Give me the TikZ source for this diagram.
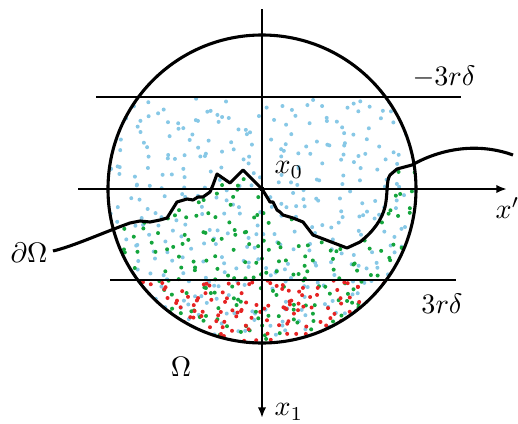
\documentclass[tikz,border=0pt]{standalone}
\usepackage{amssymb,amsmath}
\usetikzlibrary{arrows.meta}

\definecolor{dotblue}{RGB}{135,200,230}
\definecolor{dotgreen}{RGB}{20,165,60}
\definecolor{dotred}{RGB}{230,35,35}

\newcommand{\bdry}{(-209,-62) .. controls (-188,-57) and (-160,-44) .. (-132,-34)
  -- (-122,-32) -- (-112,-33) -- (-102,-31) -- (-95,-29) -- (-90,-21) -- (-85,-13)
  -- (-75,-10) -- (-69,-11) -- (-64,-8) -- (-59,-8) -- (-52,-3) -- (-49,4)
  -- (-45,15) -- (-32,6) -- (-19,19) -- (-9,9) -- (0,0)
  -- (5,-8) -- (8,-13) -- (11,-13) -- (15,-21) -- (18,-23) -- (21,-26)
  -- (31,-29) -- (41,-33) -- (51,-46) -- (85,-59) -- (98,-53)
  .. controls (112,-42) and (120,-30) .. (123,-18)
  .. controls (126,-5) and (124,8) .. (128,14) -- (135,20) -- (150,24)
  .. controls (178,40) and (215,47) .. (251,34)}

\begin{document}
\begin{tikzpicture}[scale=0.0125,
    bluedot/.style={fill=dotblue},
    greendot/.style={fill=dotgreen},
    reddot/.style={fill=dotred},
    axis/.style={line width=0.75pt,-{Latex[length=3.8pt,width=3pt]}},
    level/.style={line width=0.45pt},
    bold/.style={line width=1.1pt,line join=round}]
\useasboundingbox (-262,-235) rectangle (256,189);
\coordinate (x0) at (0,0);
\coordinate (top) at (0,180);
\coordinate (bot) at (0,-229);
\coordinate (left) at (-184,0);
\coordinate (right) at (245,0);
\coordinate (la) at (-166,92);
\coordinate (lb) at (199,92);
\coordinate (lc) at (-152,-91);
\coordinate (ld) at (194,-91);
% dots
\pgfmathsetseed{5}
\begin{scope}
  \clip (x0) circle (154);
  \clip (-160,92) rectangle (160,-160);
  \foreach \i in {1,...,420}
    \fill[bluedot] ({-155+310*mod(0.13+\i*0.7548777,1)+9*rand},
                    {-155+247*mod(0.61+\i*0.5698403,1)+9*rand}) circle (2);
\end{scope}
\begin{scope}
  \clip (x0) circle (154);
  \clip \bdry -- (251,-200) -- (-209,-200) -- cycle;
  \foreach \i in {1,...,330}
    \fill[greendot] ({-155+310*mod(0.47+\i*0.7548777,1)+9*rand},
                     {-155+180*mod(0.29+\i*0.5698403,1)+9*rand}) circle (2);
\end{scope}
\begin{scope}
  \clip (x0) circle (154);
  \clip (-160,-91) rectangle (160,-160);
  \foreach \i in {1,...,170}
    \fill[reddot] ({-130+260*mod(0.83+\i*0.7548777,1)+9*rand},
                   {-155+64*mod(0.05+\i*0.5698403,1)+9*rand}) circle (2);
\end{scope}
\draw[level] (la) -- (lb);
\draw[level] (lc) -- (ld);
\draw[bold] (x0) circle (154);
\draw[axis] (left) -- (right);
\draw[axis] (top) -- (bot);
\draw[bold] \bdry;
\fill (x0) circle (2.5);
\node (lx0) at (27,19) {$x_0$};
\node[anchor=west,inner sep=0pt] (lxp) at (233,-19) {$x'$};
\node (lx1) at (27,-223) {$x_1$};
\node (lm) at (182,112) {$-3r\delta$};
\node (lp) at (180,-115) {$3r\delta$};
\node (lom) at (-81,-178) {$\Omega$};
\node (ldom) at (-233,-64) {$\partial\Omega$};
\end{tikzpicture}
\end{document}
